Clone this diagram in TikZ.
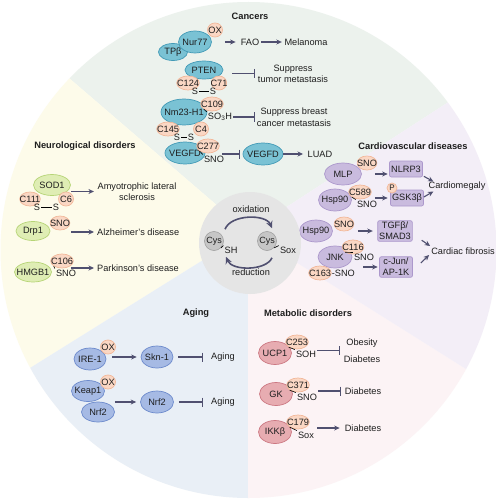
\documentclass[tikz,border=0pt]{standalone}
\usepackage{fontspec}
\setmainfont{Liberation Sans}
\usetikzlibrary{shapes.geometric,arrows.meta,calc}
\definecolor{bgcan}{RGB}{236,242,237}
\definecolor{bgneu}{RGB}{253,251,234}
\definecolor{bgage}{RGB}{233,239,246}
\definecolor{bgmet}{RGB}{252,243,245}
\definecolor{bgcar}{RGB}{243,238,247}
\definecolor{hubc}{RGB}{229,229,229}
\definecolor{txt}{RGB}{30,30,30}
\definecolor{arrc}{RGB}{80,80,112}
\definecolor{tealf}{RGB}{122,194,212}
\definecolor{teald}{RGB}{66,154,182}
\definecolor{limef}{RGB}{223,237,180}
\definecolor{limed}{RGB}{182,212,118}
\definecolor{purf}{RGB}{201,187,222}
\definecolor{purd}{RGB}{172,152,204}
\definecolor{bluf}{RGB}{166,186,228}
\definecolor{blud}{RGB}{108,138,204}
\definecolor{pinkf}{RGB}{231,172,177}
\definecolor{pinkd}{RGB}{204,120,130}
\definecolor{modf}{RGB}{250,215,196}
\definecolor{modd}{RGB}{242,184,154}
\colorlet{cysf}{gray!45}

\begin{document}
\begin{tikzpicture}[x=1pt,y=-1pt,
  every node/.style={font=\fontsize{9.2}{11}\selectfont, text=txt},
  >={Stealth[length=5.5pt,width=5pt]},
  arr/.style={->, draw=arrc, line width=1.1pt},
  inh/.style={-{Bar[width=9pt]}, draw=arrc, line width=1.1pt},
  cyc/.style={-{Stealth[length=7pt,width=6.5pt]}, draw=arrc, line width=1.6pt},
  tick/.style={draw=black, line width=0.6pt},
  ttl/.style={font=\fontsize{9.3}{11}\bfseries\selectfont},
  lab/.style={inner sep=1pt},
  prot/.style={ellipse, line width=0.7pt, inner xsep=-5pt, inner ysep=-3pt, minimum width=33pt, minimum height=22pt},
  teal/.style={prot, fill=tealf, draw=teald},
  lime/.style={prot, fill=limef, draw=limed},
  purp/.style={prot, fill=purf, draw=purd},
  blu/.style={prot, fill=bluf, draw=blud},
  pinkp/.style={prot, fill=pinkf, draw=pinkd},
  mod/.style={ellipse, fill=modf, draw=modd, line width=0.7pt, inner xsep=-3pt, inner ysep=0pt, minimum height=14pt, minimum width=15pt},
  box/.style={rectangle, rounded corners=2pt, fill=purf, draw=purd, line width=0.7pt, inner sep=1.5pt, minimum width=33pt, minimum height=16pt, align=center},
  cys/.style={circle, fill=cysf, draw=gray!75, line width=0.6pt, inner sep=0pt, minimum size=19pt, font=\fontsize{9}{10}\selectfont}
]
\useasboundingbox[fill=white] (0,0) rectangle (497,500);

% sectors
\begin{scope}
\clip (248.5,250) circle[radius=248pt];
\fill[bgcan] (248,232) -- (686,-52) -- (686,-300) -- (-110,-300) -- (-110,-76) -- cycle;
\fill[bgneu] (248,232) -- (-110,-76) -- (-300,-76) -- (-300,504) -- (-188,504) -- cycle;
\fill[bgage] (248,232) -- (-188,504) -- (-188,750) -- (248,750) -- cycle;
\fill[bgmet] (248,232) -- (248,750) -- (684,750) -- (684,506) -- cycle;
\fill[bgcar] (248,232) -- (684,506) -- (800,506) -- (800,-52) -- (686,-52) -- cycle;
\end{scope}

% titles
\node[ttl] (tcan) at (250,16) {Cancers};
\node[ttl] (tneu) at (85,146) {Neurological disorders};
\node[ttl] (tcar) at (413,146) {Cardiovascular diseases};
\node[ttl] (tage) at (196,313) {Aging};
\node[ttl] (tmet) at (308,313) {Metabolic disorders};

% cancers
\node[mod] (ox1) at (215,30) {OX};
\node[teal, minimum width=29pt, minimum height=17pt] (tpb) at (173,52) {TPβ};
\node[teal] (nur) at (195,42) {Nur77};
\node[lab] (fao) at (250,42) {FAO};
\node[lab] (mel) at (306,42) {Melanoma};
\draw[arr, shorten <=13pt, shorten >=4pt] (nur.east) -- (fao.west);
\draw[arr, shorten <=1pt, shorten >=1.5pt] (fao) -- (mel);

\node[teal, minimum width=38pt, minimum height=18pt] (pten) at (204,70) {PTEN};
\node[mod] (c124) at (188,83) {C124};
\node[mod] (c71) at (219,83) {C71};
\node[lab] (s1) at (195,91.5) {S};
\node[lab] (s2) at (213,91.5) {S};
\draw[tick, line width=0.8pt] (s1) -- (s2);
\node[lab, align=center] (sup1) at (293,73.5) {Suppress\\tumor metastasis};
\draw[inh, shorten <=9pt, shorten >=2pt] (pten.east |- sup1.west) -- (sup1.west);

\node[teal, minimum width=46pt, minimum height=26pt] (nm) at (184,112) {Nm23-H1};
\node[mod] (c109) at (212,104) {C109};
\node[lab] (so3) at (220,117) {SO\textsubscript{3}H};
\draw[tick] (c109.south west) -- (so3.north west);
\node[mod] (c145) at (168,129) {C145};
\node[mod] (c4) at (201,129) {C4};
\node[lab] (s3) at (177,137.5) {S};
\node[lab] (s4) at (191,137.5) {S};
\draw[tick, line width=0.8pt] (s3) -- (s4);
\node[lab, align=center, font=\fontsize{9.2}{12}\selectfont] (sup2) at (294,117) {Suppress breast\\cancer metastasis};
\draw[inh, shorten >=1pt] (so3.east) -- (sup2.west);

\node[teal, minimum width=40pt, minimum height=22pt] (vega) at (185,153) {VEGFD};
\node[mod] (c277) at (208,146) {C277};
\node[lab] (sno1) at (214,159) {SNO};
\draw[tick] (c277.south west) -- (sno1.north west);
\node[teal, minimum width=40pt, minimum height=22pt] (vegb) at (263,154) {VEGFD};
\node[lab] (luad) at (320,154) {LUAD};
\draw[inh, shorten <=17pt, shorten >=3pt] (vega.east |- vegb.west) -- (vegb.west);
\draw[arr, shorten >=3.5pt] (vegb.east) -- (luad.west);

% neurological disorders
\node[lime, minimum width=37pt, minimum height=21pt] (sod) at (52,185) {SOD1};
\node[mod] (c111) at (30,199) {C111};
\node[mod] (c6) at (66,199) {C6};
\node[lab] (s5) at (37,207.5) {S};
\node[lab] (s6) at (56,207.5) {S};
\draw[tick, line width=0.8pt] (s5) -- (s6);
\node[lab, align=center] (als) at (137,191.5) {Amyotrophic lateral\\sclerosis};
\draw[arr, shorten <=0.5pt, shorten >=2.5pt] (sod.east |- als.west) -- (als.west);

\node[lime, minimum width=34pt, minimum height=19pt] (drp) at (33,231) {Drp1};
\node[mod] (sno2) at (60,223) {SNO};
\node[lab, anchor=west] (alz) at (96,232) {Alzheimer's disease};
\draw[arr, shorten <=21pt, shorten >=2pt] (drp.east |- alz.west) -- (alz.west);

\node[lime, minimum width=37pt, minimum height=20pt] (hmg) at (33,272) {HMGB1};
\node[mod] (c106) at (62,261) {C106};
\node[lab] (sno3) at (66,273) {SNO};
\draw[tick] (c106.south west) -- (sno3.north west);
\node[lab, anchor=west] (park) at (96,268) {Parkinson's disease};
\draw[arr, shorten <=19pt, shorten >=2pt] (hmg.east |- park.west) -- (park.west);

% cardiovascular diseases
\node[purp, minimum width=37pt] (mlp) at (343,174) {MLP};
\node[mod] (sno4) at (367,163) {SNO};
\node[box] (nlrp) at (406,169) {NLRP3};
\node[lab] (cmeg) at (457,186) {Cardiomegaly};
\draw[arr, shorten <=13pt, shorten >=1.5pt] (mlp.east) -- (mlp.east -| nlrp.west);
\draw[arr] ($(nlrp.south east)+(1,-1)$) -- ($(cmeg.north west)+(6,1)$);

\node[purp] (hspa) at (335,200) {Hsp90};
\node[mod] (c589) at (360,192) {C589};
\node[lab] (sno5) at (367,204) {SNO};
\draw[tick] (c589.south west) -- (sno5.north west);
\node[box] (gsk) at (407,198) {GSK3β};
\node[mod, minimum width=10pt, minimum height=10pt, inner sep=0pt, font=\fontsize{8}{9}\selectfont] (pp) at (392,188) {P};
\draw[arr, shorten <=23pt, shorten >=2.5pt] (hspa.east |- gsk.west) -- (gsk.west);
\draw[arr] ($(gsk.east)+(0,-1)$) -- ($(cmeg.south west)+(6,0)$);

\node[purp] (hspb) at (316,231) {Hsp90};
\node[mod] (sno6) at (344,224) {SNO};
\node[box] (tgf) at (395,231) {TGFβ/\\SMAD3};
\node[lab] (cfib) at (463,251) {Cardiac fibrosis};
\draw[arr, shorten <=25pt, shorten >=4.5pt] (hspb.east |- tgf.west) -- (tgf.west);
\draw[arr] ($(tgf.south east)+(9,-1.5)$) -- ($(cfib.west)+(0,-5)$);

\node[purp, minimum width=34pt] (jnk) at (335,257) {JNK};
\node[mod] (c116) at (353,247) {C116};
\node[lab] (sno7) at (364,257) {SNO};
\draw[tick] (c116.south west) -- (sno7.north west);
\node[mod] (c163) at (320,273) {C163};
\node[lab, anchor=west, inner sep=0pt] (sno8) at (c163.east) {-SNO};
\node[box] (cjun) at (396,267) {c-Jun/\\AP-1K};
\draw[arr, shorten <=11pt, shorten >=1.5pt] (jnk.east |- cjun.west) -- (cjun.west);
\draw[arr] ($(cjun.east)+(8,-4)$) -- ($(cfib.west)+(-1,4)$);

% aging
\node[blu, minimum width=32pt] (ire) at (90,359) {IRE-1};
\node[mod] (ox2) at (108,347) {OX};
\node[blu, minimum width=32pt] (skn) at (157,357) {Skn-1};
\node[lab] (agea) at (223,357) {Aging};
\draw[arr, shorten <=6pt, shorten >=4pt] (ire.east |- skn.west) -- (skn.west);
\draw[inh, shorten <=5pt, shorten >=7pt] (skn.east) -- (agea.west);

\node[blu, minimum height=21pt] (keap) at (88,391) {Keap1};
\node[blu, minimum height=20pt] (nrfa) at (98,412) {Nrf2};
\node[mod] (ox3) at (108,382) {OX};
\node[blu] (nrfb) at (157,402) {Nrf2};
\node[lab] (ageb) at (223,402) {Aging};
\draw[arr, shorten >=4pt] (nrfa.east |- nrfb.west) -- (nrfb.west);
\draw[inh, shorten <=5pt, shorten >=7pt] (nrfb.east) -- (ageb.west);

% metabolic disorders
\node[pinkp, minimum height=23pt] (ucp) at (275,353) {UCP1};
\node[mod] (c253) at (297,342) {C253};
\node[lab] (soh) at (306,354) {SOH};
\draw[tick] (c253.south west) -- (soh.north west);
\node[lab, align=center, font=\fontsize{9.2}{17}\selectfont] (obd) at (362,350.5) {Obesity\\Diabetes};
\draw[inh, shorten >=3pt] (soh.east |- obd.west) -- (obd.west);

\node[pinkp, minimum height=23pt] (gk) at (276,394) {GK};
\node[mod] (c371) at (298,385) {C371};
\node[lab] (sno9) at (307,397) {SNO};
\draw[tick] (c371.south west) -- (sno9.north west);
\node[lab] (dbb) at (363,391) {Diabetes};
\draw[inh, shorten >=3pt] (sno9.east |- dbb.west) -- (dbb.west);

\node[pinkp, minimum height=23pt] (ikk) at (275,432) {IKKβ};
\node[mod] (c179) at (298,422) {C179};
\node[lab] (sox1) at (306,435) {Sox};
\draw[tick] (c179.south west) -- (sox1.north west);
\node[lab] (dbc) at (363,428) {Diabetes};
\draw[arr, shorten <=2pt, shorten >=4pt] (sox1.east |- dbc.west) -- (dbc.west);

% redox cycle
\node[circle, fill=hubc, minimum size=102pt, inner sep=0pt] (hub) at (250,243) {};
\node[lab] (oxi) at (251,209) {oxidation};
\node[lab] (red) at (251,272) {reduction};
\node[cys] (cysa) at (214,241) {Cys};
\node[lab] (sh) at (231,250) {SH};
\node[cys] (cysb) at (267,241) {Cys};
\node[lab] (sox) at (288,250) {Sox};
\draw[tick] (cysa.south east) -- (sh.north west);
\draw[tick] (cysb.south east) -- (sox.north west);
\draw[cyc] ($(cysa.north)+(11,-2)$) .. controls (231,214) and (266,214) .. ($(cysb.north)+(5,-3)$);
\draw[cyc] ($(cysb.south)+(5,7)$) .. controls (266,271) and (232,271) .. ($(cysa.south)+(12,6)$);
\end{tikzpicture}
\end{document}
